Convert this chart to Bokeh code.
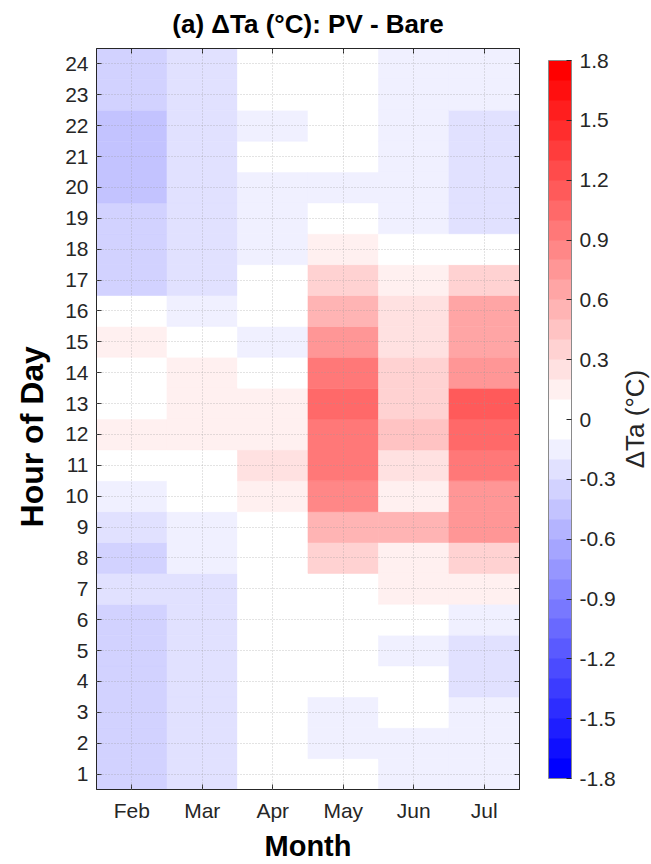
import math
from bokeh.plotting import figure
from bokeh.layouts import row
from bokeh.models import (ColumnDataSource, LinearColorMapper, ColorBar, FixedTicker,
                          LinearAxis, CustomJSTickFormatter, CustomLabelingPolicy)
from bokeh.core.properties import value
from bokeh.transform import transform
from bokeh.embed import file_html
from bokeh.resources import INLINE

# ---- data ----
months = ["Feb", "Mar", "Apr", "May", "Jun", "Jul"]
hours = list(range(1, 25))
# ΔTa per hour (1..24) for each month
feb = [-0.35, -0.36, -0.34, -0.35, -0.33, -0.35, -0.25, -0.32, -0.24, -0.14, 0.03, 0.15,
       0.04, 0.05, 0.14, 0.02, -0.33, -0.34, -0.36, -0.45, -0.46, -0.44, -0.35, -0.34]
mar = [-0.25, -0.26, -0.24, -0.25, -0.23, -0.24, -0.22, -0.15, -0.13, 0.04, 0.02, 0.13,
       0.12, 0.14, 0.03, -0.12, -0.24, -0.25, -0.26, -0.27, -0.25, -0.24, -0.23, -0.22]
apr = [0.02, 0.03, 0.01, -0.02, 0.01, 0.02, 0.05, 0.06, 0.08, 0.15, 0.24, 0.14,
       0.13, 0.05, -0.13, 0.02, 0.03, -0.12, -0.13, -0.14, -0.05, -0.12, -0.04, -0.03]
may = [0.01, -0.12, -0.11, 0.02, 0.03, 0.05, 0.08, 0.35, 0.55, 0.85, 0.93, 0.95,
       1.05, 0.95, 0.75, 0.55, 0.36, 0.14, 0.04, -0.11, -0.02, -0.03, -0.02, -0.01]
jun = [-0.13, -0.12, 0.02, 0.03, -0.12, 0.04, 0.15, 0.16, 0.52, 0.15, 0.25, 0.45,
       0.35, 0.35, 0.25, 0.25, 0.15, 0.03, -0.12, -0.13, -0.12, -0.13, -0.12, -0.11]
jul = [-0.13, -0.14, -0.15, -0.25, -0.25, -0.15, 0.15, 0.35, 0.78, 0.78, 0.95, 1.05,
       1.15, 0.75, 0.65, 0.65, 0.35, 0.03, -0.25, -0.25, -0.25, -0.25, -0.15, -0.15]
series = [feb, mar, apr, may, jun, jul]
cbar_ticks = [-1.8, -1.5, -1.2, -0.9, -0.6, -0.3, 0, 0.3, 0.6, 0.9, 1.2, 1.5, 1.8]
cbar_title = "ΔTa (°C)"

# ---- palette: 36 steps of 0.1 from -1.8 to 1.8, white next to zero ----
palette = []
for i in range(36):
    lo = -1.8 + 0.1 * i
    if lo >= -1e-9:
        a = lo
        L = int(round(255 * (1 - a / 1.7)))
        palette.append("#%02x%02x%02x" % (255, L, L))
    else:
        a = abs(lo + 0.1)
        L = int(round(255 * (1 - a / 1.7)))
        palette.append("#%02x%02x%02x" % (L, L, 255))

xs, ys, vals = [], [], []
for mi, col in enumerate(series):
    for h, v in zip(hours, col):
        xs.append(mi + 1)
        ys.append(h)
        vals.append(v)
src = ColumnDataSource(dict(x=xs, y=ys, v=vals))

mapper = LinearColorMapper(palette=palette, low=-1.8, high=1.8)

FONT = "Liberation Sans"
DARK = "#262626"

p = figure(width=618, height=864, x_range=(0.5, 6.5), y_range=(0.5, 24.5),
           output_backend="svg", toolbar_location=None, tools="",
           min_border_left=96, min_border_right=98, min_border_top=48, min_border_bottom=74)
p.background_fill_color = "white"
p.border_fill_color = "white"
p.outline_line_color = DARK

p.rect(x="x", y="y", width=1, height=1, source=src,
       fill_color=transform("v", mapper), line_color=transform("v", mapper), line_width=0.6)

# title
p.title.text = "(a) ΔTa (°C): PV - Bare"
p.title.align = "center"
p.title.text_font = FONT
p.title.text_font_size = "26px"
p.title.text_font_style = "bold"
p.title.text_color = "#000000"
p.title.standoff = 12

xt = FixedTicker(ticks=list(range(1, 7)))
yt = FixedTicker(ticks=hours)
xlabels = {i + 1: m for i, m in enumerate(months)}
hide_all = CustomLabelingPolicy(code="for (const i of indices) { indices.unset(i) }")

def style(ax):
    ax.axis_line_color = DARK
    ax.major_tick_line_color = DARK
    ax.major_tick_in = 5
    ax.major_tick_out = 0
    ax.minor_tick_line_color = None
    ax.major_label_text_font = FONT
    ax.major_label_text_font_size = "21px"
    ax.major_label_text_color = DARK
    ax.axis_label_text_font = FONT
    ax.axis_label_text_font_style = "bold"
    ax.axis_label_text_color = "#000000"

xa = p.xaxis[0]
xa.ticker = xt
xa.major_label_overrides = xlabels
xa.axis_label = "Month"
style(xa)
xa.axis_label_text_font_size = "29px"
xa.major_label_standoff = 9
xa.axis_label_standoff = 5

ya = p.yaxis[0]
ya.ticker = yt
ya.axis_label = "Hour of Day" + "\u00a0" * 4
style(ya)
ya.axis_label_text_font_size = "32px"
ya.major_label_standoff = 8
ya.axis_label_standoff = 12

ta = LinearAxis(ticker=xt, major_label_policy=hide_all)
style(ta)
ta.major_label_text_font_size = "1px"
ta.major_label_standoff = 0
p.add_layout(ta, "above")

ra = LinearAxis(ticker=yt, major_label_policy=hide_all)
style(ra)
ra.major_label_text_font_size = "1px"
ra.major_label_standoff = 12
p.add_layout(ra, "right")

for g, tk in ((p.xgrid[0], xt), (p.ygrid[0], yt)):
    g.ticker = tk
    g.grid_line_color = "#9a9a9a"
    g.grid_line_alpha = 0.55
    g.grid_line_dash = "1 2"
    g.level = "overlay"

fmt = CustomJSTickFormatter(code="""
const v = Math.round(tick*10)/10;
return v === 0 ? '0' : v.toFixed(1);
""")
cb = ColorBar(color_mapper=mapper, ticker=FixedTicker(ticks=cbar_ticks), formatter=fmt,
              width=23, height=718, padding=0, margin=0, location="center_right",
              title="\u00a0", title_text_font_size="10px", title_standoff=0,
              major_tick_in=5, major_tick_out=0, major_tick_line_color=DARK,
              minor_tick_line_color=None,
              bar_line_color="#8a8a8a", border_line_color=None,
              background_fill_color=None,
              major_label_text_font=FONT, major_label_text_font_size="21px",
              major_label_text_color=DARK, label_standoff=8)
p.add_layout(cb, "right")

# narrow companion panel holding the colour-bar title
p2 = figure(width=33, height=864, x_range=(0, 1), y_range=p.y_range,
            output_backend="svg", toolbar_location=None, tools="",
            min_border_left=0, min_border_right=0, min_border_top=48, min_border_bottom=74)
p2.xaxis.visible = False
p2.yaxis.visible = False
p2.xgrid.visible = False
p2.ygrid.visible = False
p2.outline_line_color = None
p2.background_fill_color = "white"
p2.border_fill_color = "white"
p2.text(x=[0.485], y=[12.5], text=[cbar_title], angle=math.pi / 2,
        text_align="center", text_baseline="middle", text_font=value(FONT),
        text_font_size=value("26px"), text_color=DARK)

layout = row(p, p2, spacing=0)
open("out.html", "w").write(file_html(layout, INLINE))
